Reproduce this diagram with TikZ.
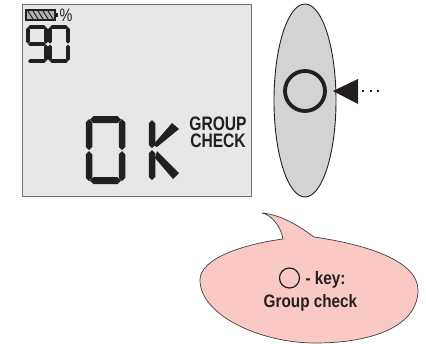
\documentclass[tikz,border=0pt]{standalone}
\usepackage{fontspec}
\setmainfont{Liberation Sans}
\newfontfamily\condfont[FakeStretch=0.8]{Liberation Sans}
\newfontfamily\midfont[FakeStretch=0.85]{Liberation Sans}
\definecolor{lcdgrey}{HTML}{E6E7E8}
\definecolor{keygrey}{HTML}{D1D3D4}
\definecolor{bubblepink}{HTML}{FBC9C5}
\definecolor{inkblack}{HTML}{231F20}
\newcommand{\hseg}[4]{\fill[inkblack] (#1,#3) -- (#1+#4/2,#3-#4/2) -- (#2-#4/2,#3-#4/2) -- (#2,#3) -- (#2-#4/2,#3+#4/2) -- (#1+#4/2,#3+#4/2) -- cycle;}
\newcommand{\vseg}[4]{\fill[inkblack] (#3,#1) -- (#3+#4/2,#1+#4/2) -- (#3+#4/2,#2-#4/2) -- (#3,#2) -- (#3-#4/2,#2-#4/2) -- (#3-#4/2,#1+#4/2) -- cycle;}
\tikzset{
  lbl/.style={text=inkblack,inner sep=0pt,anchor=base,align=center},
  lcdlbl/.style={lbl,anchor=center,font=\condfont\bfseries\fontsize{19.5}{16.5}\selectfont},
  keylbl/.style={lbl,font=\midfont\bfseries\fontsize{18}{18}\selectfont},
}
\begin{document}
\begin{tikzpicture}[x=1pt,y=-1pt]
\useasboundingbox (0,0) rectangle (426,343);

% display
\draw[black!55,fill=lcdgrey,line width=0.9pt] (22.5,4) rectangle (251,196);

% battery
\draw[inkblack,line width=1.2pt,fill=black!30] (26,10) rectangle (55,20);
\fill[inkblack] (55,12.5) rectangle (58,17);
\foreach \x in {29,34,39,44,49} \draw[inkblack,line width=1pt] (\x-1,11) -- (\x+4,19);
\node[lbl,font=\condfont\fontsize{18}{18}\selectfont] (percent) at (66,21) {\%};

% small 9
\hseg{28}{46}{27}{3.8}
\hseg{28}{46}{44}{3.8}
\hseg{28}{46}{61}{3.8}
\vseg{27}{43.5}{28}{3.8}
\vseg{27}{43.5}{46}{3.8}
\vseg{44.5}{61}{46}{3.8}
% small 0
\hseg{50}{68}{27}{3.8}
\hseg{50}{68}{61}{3.8}
\vseg{27}{43.5}{50}{3.8}
\vseg{27}{43.5}{68}{3.8}
\vseg{44.5}{61}{50}{3.8}
\vseg{44.5}{61}{68}{3.8}

% big 0
\hseg{90}{121}{119.5}{7}
\hseg{90}{121}{180.5}{7}
\vseg{119}{150}{89}{6.5}
\vseg{119}{150}{122}{6.5}
\vseg{151}{181}{89}{6.5}
\vseg{151}{181}{122}{6.5}

% big K
\vseg{120}{148}{152}{6.5}
\vseg{150}{180}{152}{6.5}
\fill[inkblack] (153,145) -- (172,123) -- (179,129) -- (157,147) -- cycle;
\fill[inkblack] (157,151) -- (179,173) -- (173,179) -- (155,158) -- cycle;

\node[lcdlbl] (groupcheck) at (218,132.5) {GROUP\\CHECK};

% key
\draw[inkblack,fill=keygrey,line width=0.9pt] (305,100.5) ellipse (31 and 96.5);
\draw[inkblack,line width=3.8pt] (305,91) circle (20);
\coordinate (dotstart) at (362,91);
\coordinate (dotend) at (381,91);
\fill[inkblack] (333,91) -- (358,79) -- (358,104) -- cycle;
\draw[inkblack,line width=2pt,dash pattern=on 2pt off 5.7pt] (dotstart) -- (dotend);

% bubble
\draw[black!75,fill=bubblepink,line width=0.7pt] (262,213)
  .. controls (272,215) and (281,227) .. (283,239)
  .. controls (245,244) and (200,258) .. (200,280)
  .. controls (200,315) and (260,343) .. (315,343)
  .. controls (375,343) and (418,325) .. (418,290)
  .. controls (418,262) and (370,245) .. (314,237)
  .. controls (299,226) and (282,215) .. (262,213) -- cycle;
\draw[inkblack,line width=1.2pt] (289.5,278) circle (10);
\node[keylbl] (keytxt) at (325.5,284) {- key:};
\node[keylbl] (grouptxt) at (310.5,307) {Group check};

\end{tikzpicture}
\end{document}
